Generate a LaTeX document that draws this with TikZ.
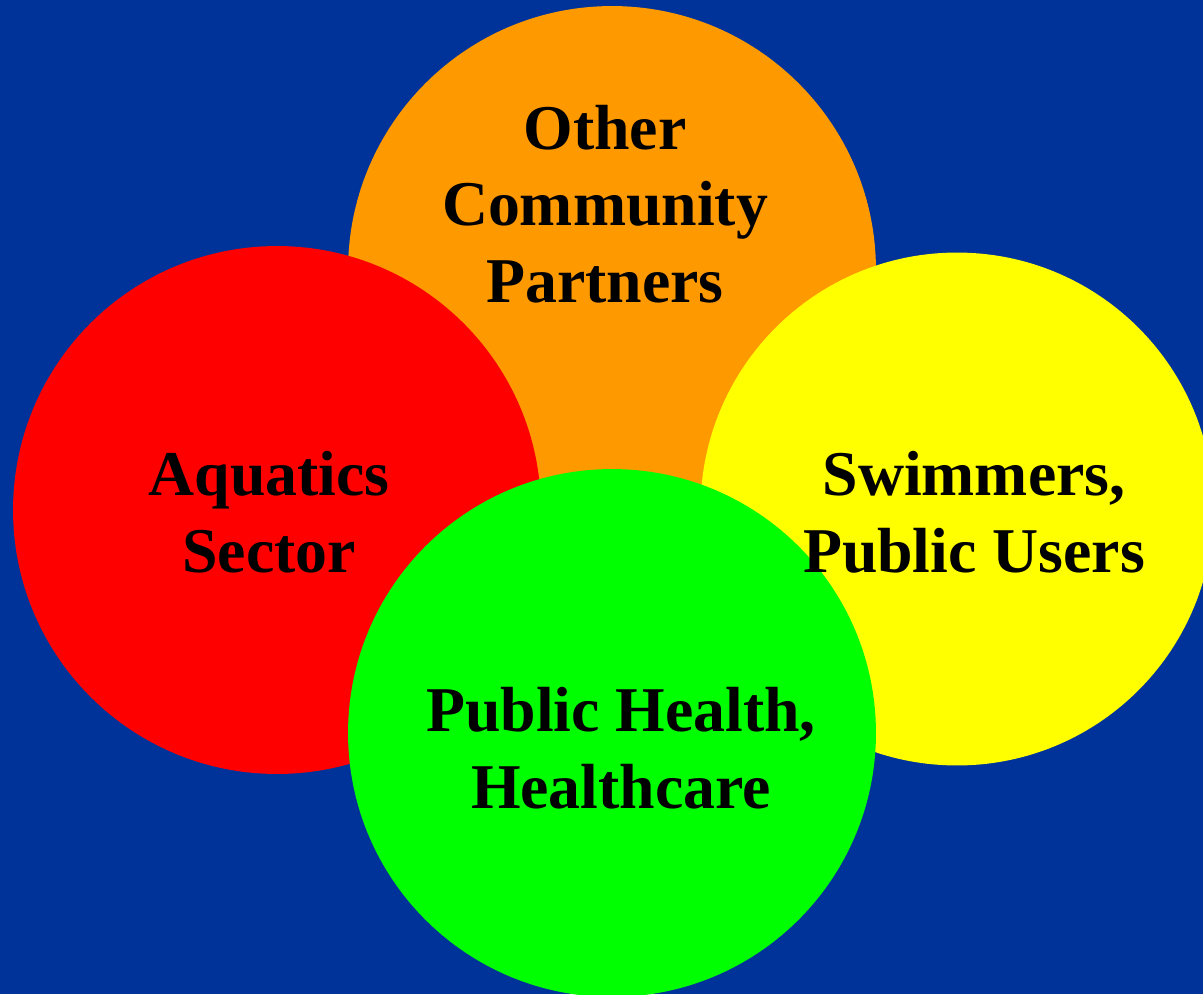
\documentclass[tikz,border=0pt]{standalone}
\usepackage{fontspec}
\setmainfont{Liberation Serif}
\definecolor{bgblue}{HTML}{003399}
\definecolor{partnerorange}{HTML}{FF9900}
\definecolor{sectorred}{HTML}{FF0000}
\definecolor{useryellow}{HTML}{FFFF00}
\definecolor{healthgreen}{HTML}{00FF00}
\begin{document}
\begin{tikzpicture}[x=0.02cm,y=-0.02cm,
    disc/.style={circle,inner sep=0pt,minimum size=10.56cm},
    lbl/.style={align=center,anchor=base,font=\bfseries\fontsize{36.3}{43.4}\selectfont}]
  \useasboundingbox (0,0) rectangle (1203,994);
  \clip (0,0) rectangle (1203,994);
  \fill[bgblue] (0,0) rectangle (1203,994);
  % the four groups, back to front
  \node[disc,fill=partnerorange] (partners) at (612,270) {};
  \node[disc,fill=sectorred] (aquatics) at (277,510) {};
  \node[disc,fill=useryellow,minimum size=10.26cm] (swimmers) at (957,509) {};
  \node[disc,fill=healthgreen] (health) at (612,733) {};
  % names over the discs (base = last line)
  \node[lbl] (partnerstext) at (605,302) {Other\\Community\\Partners};
  \node[lbl] (aquaticstext) at (269,572) {Aquatics\\Sector};
  \node[lbl] (swimmerstext) at (974,572) {Swimmers,\\Public Users};
  \node[lbl] (healthtext) at (621,808) {Public Health,\\Healthcare};
\end{tikzpicture}
\end{document}
